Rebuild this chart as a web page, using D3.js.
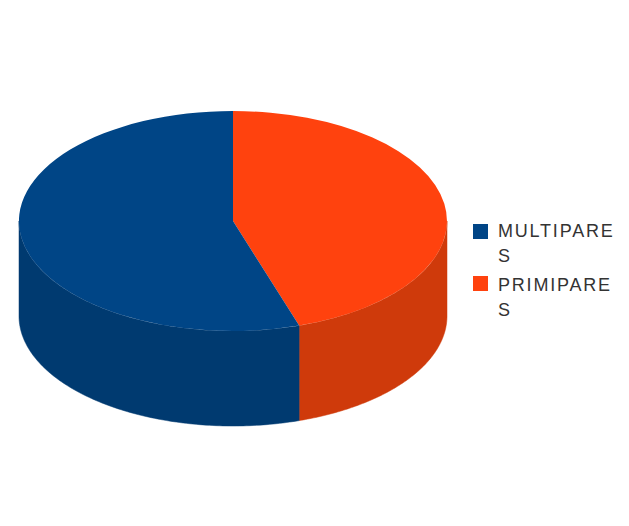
<!DOCTYPE html>
<html>
<head>
<meta charset="utf-8">
<script src="https://cdn.jsdelivr.net/npm/d3@7/dist/d3.min.js"></script>
<style>
  html, body { margin: 0; padding: 0; background: #fff; }
  svg { display: block; }
  text { font-family: "Liberation Sans", Arial, sans-serif; }
</style>
</head>
<body>
<svg id="chart" width="629" height="526"></svg>
<script>
// Share of deliveries per group, clockwise from twelve o'clock
const categories = ["PRIMIPARES", "MULTIPARES"];
const values = [45, 55];
const legendOrder = ["MULTIPARES", "PRIMIPARES"];
const legendLines = [["MULTIPARE", "S"], ["PRIMIPARE", "S"]];
const topColors = ["#ff420e", "#004586"];
const sideColors = ["#cf3a0b", "#003a70"];

const width = 629, height = 526;
const cx = 233, cy = 221, rx = 214, ry = 110, depth = 95;

const svg = d3.select("#chart");
const pie = d3.pie().sort(null).value(d => d)(values);

// Map a pie angle (0 = top, clockwise) on to the tilted disc
const px = a => cx + rx * Math.sin(a);
const py = a => cy - ry * Math.cos(a);

// Wall of a slice: only the part of the rim facing the viewer is visible
function wallPath(start, end) {
  const a0 = Math.max(start, Math.PI / 2);
  const a1 = Math.min(end, 3 * Math.PI / 2);
  if (a1 <= a0) return null;
  const rim = d3.range(0, 121).map(i => a0 + (a1 - a0) * i / 120);
  const outline = rim.map(a => [px(a), py(a)])
    .concat(rim.slice().reverse().map(a => [px(a), py(a) + depth]));
  return d3.line()(outline) + "Z";
}

const walls = svg.append("g");
pie.forEach((s, i) => {
  const d = wallPath(s.startAngle, s.endAngle);
  if (d) walls.append("path").attr("d", d)
    .attr("fill", sideColors[i])
    .attr("stroke", sideColors[i]).attr("stroke-width", 0.5);
});

// Top face: unit-radius arcs squashed into the ellipse
const arc = d3.arc().innerRadius(0).outerRadius(1);
svg.append("g")
  .attr("transform", `translate(${cx},${cy}) scale(${rx},${ry})`)
  .selectAll("path")
  .data(pie)
  .join("path")
  .attr("d", arc)
  .attr("fill", (d, i) => topColors[i]);

// Legend with its wrapped labels
const colorOf = d3.scaleOrdinal().domain(categories).range(topColors);
const swatchY = d3.scalePoint().domain(legendOrder).range([224, 276]);
const baselineY = d3.scalePoint().domain(legendOrder).range([237, 291]);
const legend = svg.append("g");
legendOrder.forEach((name, i) => {
  legend.append("rect")
    .attr("x", 473).attr("y", swatchY(name))
    .attr("width", 15).attr("height", 15)
    .attr("fill", colorOf(name));
  const label = legend.append("text")
    .attr("x", 498).attr("y", baselineY(name))
    .attr("font-size", 18)
    .attr("letter-spacing", 1.8)
    .attr("fill", "#333");
  legendLines[i].forEach((line, j) => {
    label.append("tspan")
      .attr("x", 498)
      .attr("dy", j === 0 ? 0 : 24.5)
      .text(line);
  });
});
</script>
</body>
</html>
